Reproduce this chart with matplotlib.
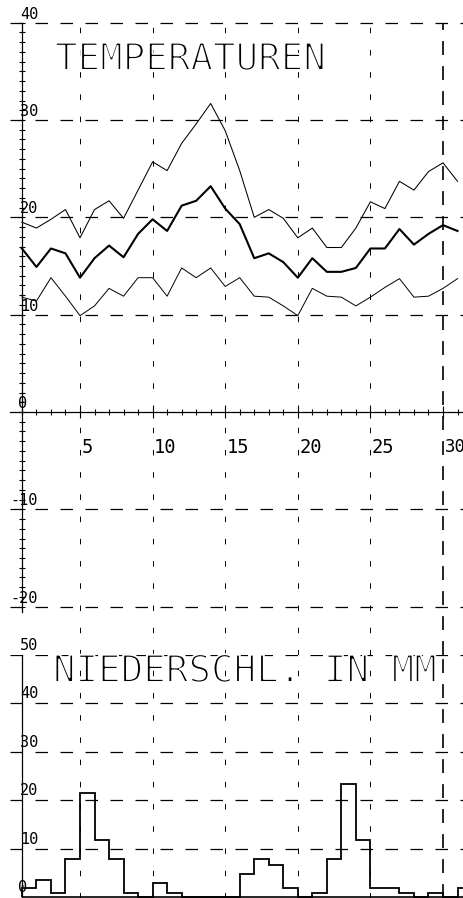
import matplotlib
matplotlib.use("Agg")
import matplotlib.pyplot as plt
import matplotlib.patheffects as pe
import numpy as np

# ---------------- data ----------------
days = list(range(1, 32))
t_max = [19.5, 18.9, 19.8, 20.8, 17.9, 20.8, 21.7, 19.9, 22.8, 25.7,
         24.8, 27.6, 29.6, 31.7, 28.9, 24.8, 20.0, 20.8, 19.9, 17.9,
         18.9, 16.9, 16.9, 18.9, 21.6, 20.9, 23.7, 22.8, 24.7, 25.6, 23.7]
t_mean = [16.8, 14.9, 16.8, 16.3, 13.8, 15.8, 17.1, 15.9, 18.3, 19.8,
          18.6, 21.2, 21.7, 23.2, 20.9, 19.3, 15.8, 16.3, 15.4, 13.8,
          15.8, 14.4, 14.4, 14.8, 16.8, 16.8, 18.8, 17.2, 18.3, 19.2, 18.6]
t_min = [11.8, 11.4, 13.8, 11.9, 9.9, 10.9, 12.7, 11.9, 13.8, 13.8,
         11.9, 14.8, 13.8, 14.8, 12.9, 13.8, 11.9, 11.8, 10.9, 9.9,
         12.7, 11.9, 11.8, 10.9, 11.8, 12.8, 13.7, 11.8, 11.9, 12.7, 13.7]
precip = [1.8, 3.6, 0.9, 7.8, 21.5, 11.8, 7.8, 0.9, 0.0, 2.8,
          0.8, 0.0, 0.0, 0.0, 0.0, 4.7, 7.8, 6.7, 1.9, 0.0,
          0.8, 7.8, 23.4, 11.8, 1.8, 1.8, 0.9, 0.0, 0.9, 0.0, 1.8]

temp_title = "TEMPERATUREN"
precip_title = "NIEDERSCHL. IN MM"
temp_yticks = [-20, -10, 0, 10, 20, 30, 40]
temp_ylabels = ["-20", "-10", "0", "10", "20", "30", "40"]
x_ticks = [5, 10, 15, 20, 25, 30]
x_labels = ["5", "10", "15", "20", "25", "30"]
precip_yticks = [0, 10, 20, 30, 40, 50]
precip_ylabels = ["0", "10", "20", "30", "40", "50"]

# ---------------- layout ----------------
plt.rcParams["lines.scale_dashes"] = False
FONT = "DejaVu Sans Mono"
W, H = 464, 898
fig = plt.figure(figsize=(W / 100, H / 100), dpi=100)
fig.patch.set_facecolor("white")

X0, XS = 7.4, 14.52          # px of day 0, px per day
xlim = (-X0 / XS, (W - X0) / XS)
x_start = (10 - X0) / XS     # where horizontal rules start

T0, TS = 412.0, 9.733        # px of 0 deg, px per deg
SPLIT = 655                  # px boundary between panels
ax = fig.add_axes([0, (H - SPLIT) / H, 1, SPLIT / H])
ax.set_xlim(*xlim)
ax.set_ylim((T0 - SPLIT) / TS, T0 / TS)
ax.patch.set_alpha(0)

P0, PS = 897.0, 4.84         # px of 0 mm, px per mm
ax2 = fig.add_axes([0, 0, 1, (H - SPLIT) / H])
ax2.set_xlim(*xlim)
ax2.set_ylim(-(H - P0) / PS, (P0 - SPLIT) / PS)
ax2.patch.set_alpha(0)

for a in (ax, ax2):
    for s in ("top", "right"):
        a.spines[s].set_visible(False)
    a.spines["left"].set_position(("data", 1))
    a.spines["left"].set_linewidth(0.9)
    a.spines["bottom"].set_linewidth(0.9)

# ---------------- temperature panel ----------------
ax.spines["bottom"].set_position(("data", 0))
ax.spines["bottom"].set_bounds(x_start, xlim[1])
ax.spines["left"].set_bounds(-20.5, 40)

ax.set_xticks(x_ticks)
ax.set_xticks(days, minor=True)
ax.set_yticks(temp_yticks)
ax.set_yticks(np.arange(-20, 41, 1), minor=True)
ax.tick_params(axis="x", which="major", direction="inout", length=9, width=0.8,
               labelbottom=False)
ax.tick_params(axis="x", which="minor", direction="inout", length=4.5, width=0.8)
ax.tick_params(axis="y", which="both", direction="inout", length=4.5, width=0.8,
               labelleft=False)

# grid
hgrid = [v for v in temp_yticks if v != 0]
ax.hlines(hgrid, x_start, xlim[1], colors="k", linewidth=0.9,
          linestyles=[(0, (9, 9))])
ax.vlines(x_ticks[:-1], ax.get_ylim()[0], 40, colors="k", linewidth=0.7,
          linestyles=[(0, (4, 12))])
ax.vlines([x_ticks[-1]], ax.get_ylim()[0], 40, colors="k", linewidth=1.2,
          linestyles=[(0, (10, 8))])

# series
ax.plot(days, t_max, color="k", linewidth=0.75)
ax.plot(days, t_mean, color="k", linewidth=1.5)
ax.plot(days, t_min, color="k", linewidth=0.7)

# labels
lab_right = (38 - X0) / XS
lab_left0 = (18 - X0) / XS
for v, s in zip(temp_yticks, temp_ylabels):
    if v == 0:
        ax.text(lab_left0, v + 0.1, s, ha="left", va="bottom",
                fontsize=11, family=FONT)
    else:
        ax.text(lab_right, v + 0.1, s, ha="right", va="bottom",
                fontsize=11, family=FONT)
for v, s in zip(x_ticks, x_labels):
    fs = 13.5 if v != x_ticks[-1] else 12.5
    ax.text(v + 1.5 / XS, -2.7, s, ha="left", va="top", fontsize=fs,
            family=FONT)

erode = [pe.Stroke(linewidth=1.4, foreground="white")]
ax.text((55 - X0) / XS, (T0 - 70) / TS, temp_title, ha="left",
        va="baseline", fontsize=27, family=FONT, path_effects=erode)

# ---------------- precipitation panel ----------------
ax2.spines["bottom"].set_visible(False)
ax2.spines["left"].set_bounds(0, 50)
ax2.set_xticks([])
ax2.set_yticks([])

ax2.hlines(precip_yticks[1:], x_start, xlim[1], colors="k", linewidth=0.9,
           linestyles=[(0, (9, 9))])
ax2.vlines(x_ticks[:-1], ax2.get_ylim()[0], ax2.get_ylim()[1], colors="k",
           linewidth=0.7, linestyles=[(0, (4, 12))])
ax2.vlines([x_ticks[-1]], ax2.get_ylim()[0], ax2.get_ylim()[1], colors="k",
           linewidth=1.2, linestyles=[(0, (10, 8))])
ax2.hlines([0], 1, xlim[1], colors="k", linewidth=1.2)

edges = days + [days[-1] + 1]
ax2.stairs(precip, edges, baseline=0, color="k", linewidth=1.3)

for v, s in zip(precip_yticks, precip_ylabels):
    if v == 0:
        ax2.text(lab_left0, v + 0.4, s, ha="left", va="bottom",
                 fontsize=11, family=FONT)
    else:
        ax2.text(lab_right, v + 0.4, s, ha="right", va="bottom",
                 fontsize=11, family=FONT)

ax2.text((53 - X0) / XS, (P0 - 682) / PS, precip_title, ha="left",
         va="baseline", fontsize=27, family=FONT, path_effects=erode)

fig.savefig("out.png", dpi=100, facecolor="white")
